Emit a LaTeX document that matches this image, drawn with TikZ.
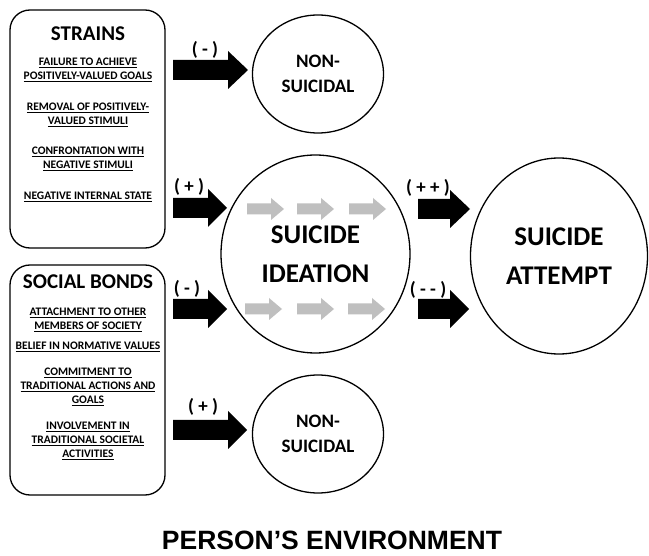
\documentclass[tikz,border=0pt]{standalone}
\usepackage{fontspec}
\setmainfont{Carlito}
\newfontfamily\arialfont{Liberation Sans}
\usetikzlibrary{shapes.geometric}
\newcommand{\blkarrow}[4]{% start, head base, tip, y
  \fill[black] (#1,#4-10) -- (#2,#4-10) -- (#2,#4-19) -- (#3,#4) -- (#2,#4+19) -- (#2,#4+10) -- (#1,#4+10) -- cycle;}
\newcommand{\grayarrow}[2]{% start x, y
  \fill[arrowgray] (#1,#2-5.5) -- (#1+24,#2-5.5) -- (#1+24,#2-11) -- (#1+37,#2) -- (#1+24,#2+11) -- (#1+24,#2+5.5) -- (#1,#2+5.5) -- cycle;}
\definecolor{arrowgray}{RGB}{191,191,191}
\begin{document}
\begin{tikzpicture}[x=1pt,y=-1pt,
  box/.style={draw, line width=1.3pt, rounded corners=20pt},
  oval/.style={draw, ellipse, line width=1.3pt, inner sep=0pt, align=center, font=\bfseries},
  head/.style={font=\fontsize{21}{24}\selectfont\bfseries},
  item/.style={align=center, font=\fontsize{11.5}{14}\selectfont\bfseries},
  sign/.style={font=\fontsize{19}{20}\selectfont\bfseries}]
\fill[white] (0,0) rectangle (649,556);
\useasboundingbox (0,0) rectangle (649,556);
% boxes
\draw[box] (10,10) rectangle (165,248);
\draw[box] (10,265) rectangle (165,495);
\node[head] (strains) at (88,34) {STRAINS};
\node[item] (s1) at (88,69.5) {\underline{FAILURE TO ACHIEVE}\\\underline{POSITIVELY-VALUED GOALS}};
\node[item] (s2) at (88,115) {\underline{REMOVAL OF POSITIVELY-}\\\underline{VALUED STIMULI}};
\node[item] (s3) at (88,158.5) {\underline{CONFRONTATION WITH}\\\underline{NEGATIVE STIMULI}};
\node[item] (s4) at (88,197) {\underline{NEGATIVE INTERNAL STATE}};
\node[head] (bonds) at (88,282) {SOCIAL BONDS};
\node[item] (b1) at (88,319.5) {\underline{ATTACHMENT TO OTHER}\\\underline{MEMBERS OF SOCIETY}};
\node[item] (b2) at (88,347) {\underline{BELIEF IN NORMATIVE VALUES}};
\node[item] (b3) at (88,387) {\underline{COMMITMENT TO}\\\underline{TRADITIONAL ACTIONS AND}\\\underline{GOALS}};
\node[item] (b4) at (88,441) {\underline{INVOLVEMENT IN}\\\underline{TRADITIONAL SOCIETAL}\\\underline{ACTIVITIES}};
% circles
\node[oval, minimum width=131pt, minimum height=118pt, font=\fontsize{19}{25}\selectfont\bfseries] (ns1) at (318,74) {NON-\\SUICIDAL};
\node[oval, minimum width=189pt, minimum height=198pt, font=\fontsize{27}{39}\selectfont\bfseries] (ideation) at (315.5,254) {SUICIDE\\IDEATION};
\node[oval, minimum width=177pt, minimum height=196pt, font=\fontsize{27}{39}\selectfont\bfseries] (attempt) at (559,256) {SUICIDE\\ATTEMPT};
\node[oval, minimum width=131pt, minimum height=118pt, font=\fontsize{19}{25}\selectfont\bfseries] (ns2) at (318,434) {NON-\\SUICIDAL};
% black arrows
\blkarrow{173}{228}{248}{70}
\blkarrow{173}{208}{227}{208}
\blkarrow{173}{208}{227}{309}
\blkarrow{173}{228}{247}{430}
\blkarrow{418}{450}{470}{209}
\blkarrow{418}{450}{469}{309}
% gray arrows
\grayarrow{247}{209}
\grayarrow{297}{209}
\grayarrow{349}{209}
\grayarrow{245}{309}
\grayarrow{297}{309}
\grayarrow{348}{309}
% signs
\node[sign] (l1) at (205,50) {( - )};
\node[sign] (l2) at (189,187) {( + )};
\node[sign] (l3) at (187,289) {( - )};
\node[sign] (l4) at (203,407) {( + )};
\node[sign] (l5) at (428,188) {( + + )};
\node[sign] (l6) at (428,290) {( - - )};
% title
\node[font=\arialfont\fontsize{26.5}{30}\selectfont\bfseries, anchor=base, inner sep=0pt] (env) at (332,549) {PERSON’S ENVIRONMENT};
\end{tikzpicture}
\end{document}
